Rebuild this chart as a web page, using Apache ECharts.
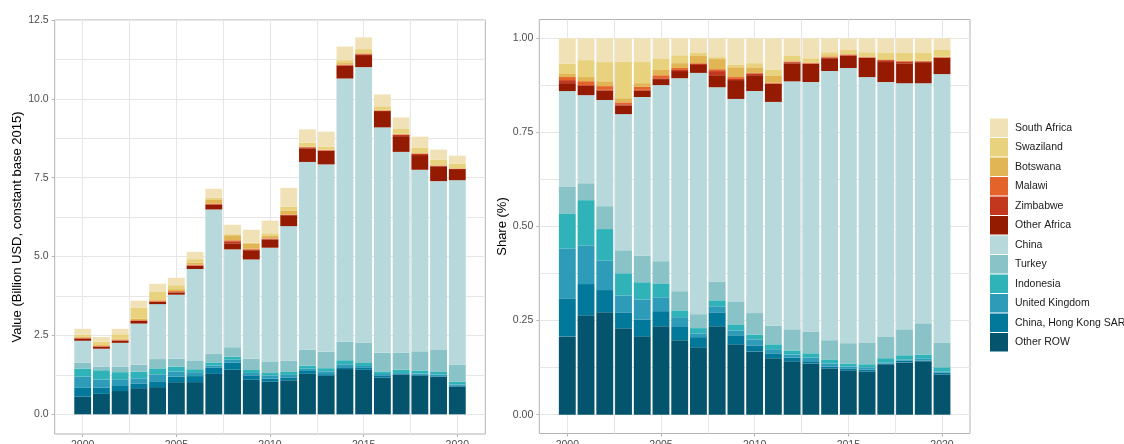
<!DOCTYPE html>
<html>
<head>
<meta charset="utf-8">
<script src="https://cdn.jsdelivr.net/npm/echarts@6/dist/echarts.min.js"></script>
<style>
html,body{margin:0;padding:0;background:#fff;}
#chart{width:1124px;height:444px;}
</style>
</head>
<body>
<div id="chart"></div>
<script>
// ---- Data (Billion USD, constant base 2015) ----
const years = [2000,2001,2002,2003,2004,2005,2006,2007,2008,2009,2010,2011,2012,2013,2014,2015,2016,2017,2018,2019,2020];
const otherROW      = [0.564,0.647,0.737,0.828,0.861,1.018,1.020,1.280,1.412,1.094,1.032,1.077,1.282,1.219,1.434,1.410,1.166,1.261,1.223,1.191,0.877];
const hongKong      = [0.274,0.203,0.160,0.151,0.186,0.173,0.191,0.193,0.222,0.140,0.098,0.093,0.090,0.054,0.058,0.060,0.051,0.019,0.044,0.017,0.041];
const unitedKingdom = [0.360,0.252,0.214,0.162,0.219,0.160,0.124,0.072,0.096,0.076,0.098,0.079,0.072,0.090,0.093,0.060,0.061,0.028,0.026,0.050,0.025];
const indonesia     = [0.252,0.294,0.225,0.212,0.190,0.160,0.093,0.100,0.096,0.094,0.080,0.093,0.099,0.099,0.128,0.096,0.081,0.104,0.097,0.084,0.090];
const turkey        = [0.190,0.110,0.165,0.220,0.294,0.255,0.263,0.265,0.301,0.357,0.350,0.359,0.506,0.520,0.595,0.645,0.588,0.546,0.607,0.696,0.541];
const china         = [0.691,0.573,0.764,1.303,1.743,2.026,2.915,4.583,3.101,3.147,3.623,4.265,5.951,5.940,8.337,8.735,7.149,6.361,5.755,5.353,5.847];
const otherAfrica   = [0.057,0.061,0.068,0.083,0.070,0.069,0.098,0.150,0.192,0.293,0.258,0.345,0.433,0.430,0.396,0.382,0.517,0.499,0.466,0.470,0.353];
const zimbabwe      = [0.022,0.005,0.005,0.011,0.008,0.009,0.015,0.021,0.066,0.018,0.025,0.007,0.027,0.009,0.023,0.024,0.010,0.047,0.035,0.017,0.008];
const malawi        = [0.022,0.025,0.027,0.018,0.033,0.035,0.026,0.014,0.030,0.029,0.012,0.014,0.018,0.018,0.023,0.024,0.010,0.009,0.018,0.008,0.008];
const botswana      = [0.022,0.027,0.035,0.040,0.041,0.061,0.067,0.136,0.162,0.152,0.092,0.129,0.005,0.009,0.047,0.012,0.020,0.019,0.004,0.004,0.008];
const swaziland     = [0.073,0.110,0.138,0.346,0.232,0.126,0.108,0.057,0.030,0.035,0.068,0.115,0.126,0.099,0.093,0.131,0.112,0.151,0.185,0.176,0.148];
const southAfrica   = [0.184,0.142,0.171,0.227,0.261,0.238,0.232,0.279,0.301,0.415,0.405,0.603,0.424,0.475,0.431,0.370,0.375,0.367,0.343,0.327,0.254];

// stacking order: bottom to top
const seriesNames = ['Other ROW','China, Hong Kong SAR','United Kingdom','Indonesia','Turkey','China','Other Africa','Zimbabwe','Malawi','Botswana','Swaziland','South Africa'];
const seriesValues = [otherROW,hongKong,unitedKingdom,indonesia,turkey,china,otherAfrica,zimbabwe,malawi,botswana,swaziland,southAfrica];
const seriesColors = ['#03546C','#02789A','#2E9BB9','#2FB3B8','#89C3C8','#B7D9DC','#951B00','#C3371E','#E4632B','#E1B553','#E8D27D','#F0E2B6'];

// tick labels
const xTicks = [2000,2005,2010,2015,2020];
const xGrid  = [2000,2002.5,2005,2007.5,2010,2012.5,2015,2017.5,2020];
const yTicksValue = [0,2.5,5,7.5,10,12.5];
const yGridValue  = [0,1.25,2.5,3.75,5,6.25,7.5,8.75,10,11.25,12.5];
const yTicksShare = [0,0.25,0.5,0.75,1];
const yGridShare  = [0,0.125,0.25,0.375,0.5,0.625,0.75,0.875,1];

const totals = years.map((y,i)=>seriesValues.reduce((s,arr)=>s+arr[i],0));

const FONT = 'Liberation Sans, Arial, Helvetica, sans-serif';
const gridLineColor = '#e6e6e6';
const borderColor = '#b3b3b3';
const tickColor = '#4d4d4d';

const xMin = 1998.505, xMax = 2021.495;

function xMain(gridIndex){
  return {
    type:'value', gridIndex, min:xMin, max:xMax, position:'bottom',
    axisLine:{show:false,onZero:false},
    axisTick:{show:true,customValues:xTicks,length:3,lineStyle:{color:borderColor}},
    axisLabel:{customValues:xTicks,color:tickColor,fontSize:10.5,fontFamily:FONT,margin:6,formatter:v=>String(v)},
    splitLine:{show:false}
  };
}
function xGridAxis(gridIndex){
  return {
    type:'value', gridIndex, min:xMin, max:xMax, position:'top',
    axisLine:{show:false,onZero:false},
    axisTick:{show:false,customValues:xGrid},
    axisLabel:{show:false},
    splitLine:{show:true,lineStyle:{color:gridLineColor,width:1}}
  };
}
function yMain(gridIndex,min,max,ticks,digits,name,gap){
  return {
    type:'value', gridIndex, min, max, position:'left',
    axisLine:{show:false,onZero:false},
    axisTick:{show:true,customValues:ticks,length:3,lineStyle:{color:borderColor}},
    axisLabel:{customValues:ticks,color:tickColor,fontSize:10.5,fontFamily:FONT,margin:6,formatter:v=>v.toFixed(digits)},
    splitLine:{show:false},
    name, nameLocation:'middle', nameRotate:90, nameGap:gap,
    nameTextStyle:{color:'#000',fontSize:13,fontFamily:FONT}
  };
}
function yGridAxis(gridIndex,min,max,lines){
  return {
    type:'value', gridIndex, min, max, position:'right',
    axisLine:{show:false,onZero:false},
    axisTick:{show:false,customValues:lines},
    axisLabel:{show:false},
    splitLine:{show:true,lineStyle:{color:gridLineColor,width:1}}
  };
}

// rows are [value, year] so the value dimension is the stacked one
const series = [];
seriesNames.forEach((name,k)=>{
  series.push({
    name, type:'bar', stack:'value', xAxisIndex:0, yAxisIndex:0,
    encode:{x:1, y:0},
    barWidth:'90%', itemStyle:{color:seriesColors[k]},
    data: years.map((y,i)=>[seriesValues[k][i], y])
  });
});
seriesNames.forEach((name,k)=>{
  series.push({
    name, type:'bar', stack:'share', xAxisIndex:2, yAxisIndex:2,
    encode:{x:1, y:0},
    barWidth:'90%', itemStyle:{color:seriesColors[k]},
    data: years.map((y,i)=>[seriesValues[k][i]/totals[i], y])
  });
});

const option = {
  animation:false,
  backgroundColor:'#ffffff',
  textStyle:{fontFamily:FONT},
  grid:[
    {left:54.7, top:20, width:430.6, height:414, outerBoundsMode:'none', containLabel:false, show:true, borderColor:borderColor, borderWidth:1, backgroundColor:'transparent'},
    {left:539.3, top:19.5, width:430.7, height:414, outerBoundsMode:'none', containLabel:false, show:true, borderColor:borderColor, borderWidth:1, backgroundColor:'transparent'}
  ],
  xAxis:[xMain(0), xGridAxis(0), xMain(1), xGridAxis(1)],
  yAxis:[
    yMain(0,-0.625,12.5,yTicksValue,1,'Value (Billion USD, constant base 2015)',29),
    yGridAxis(0,-0.625,12.5,yGridValue),
    yMain(1,-0.05,1.05,yTicksShare,2,'Share (%)',29),
    yGridAxis(1,-0.05,1.05,yGridShare)
  ],
  legend:{
    orient:'vertical', left:990, top:118.5, padding:0,
    data: seriesNames.slice().reverse(),
    icon:'rect', itemWidth:18, itemHeight:18.5, itemGap:1,
    textStyle:{color:'#1a1a1a',fontSize:10.5,fontFamily:FONT,padding:[0,0,0,2]},
    selectedMode:false
  },
  series
};

const chart = echarts.init(document.getElementById('chart'), null, {renderer:'canvas'});
chart.setOption(option);
</script>
</body>
</html>
